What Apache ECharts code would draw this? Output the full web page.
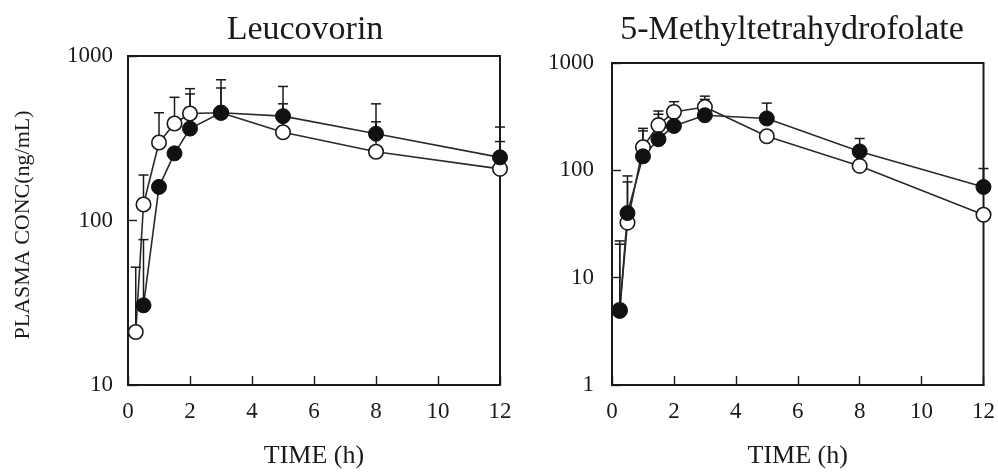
<!DOCTYPE html>
<html>
<head>
<meta charset="utf-8">
<script src="https://cdn.jsdelivr.net/npm/echarts@6/dist/echarts.min.js"></script>
<style>
  html, body { margin: 0; padding: 0; background: #fff; }
  #chart { width: 998px; height: 474px; }
</style>
</head>
<body>
<div id="chart"></div>
<script>
// Sampling times (h)
const times = [0.25, 0.5, 1, 1.5, 2, 3, 5, 8, 12];
const xTicks = [0, 2, 4, 6, 8, 10, 12];

// Leucovorin plasma concentration (ng/mL): open and filled symbols
const leuOpen = [21, 125, 298, 389, 447, 452, 344, 262, 206];
const leuFilled = [null, 30.5, 160, 256, 362, 452, 431, 337, 242];
// upper end of the error bars (mean + SD)
const leuOpenUpper = [52, 189, 452, 561, 633, 639, 512, 398, 302];
const leuFilledUpper = [null, 76.5, null, null, 588, 717, 653, 512, 370];

// 5-Methyltetrahydrofolate plasma concentration (ng/mL)
const mthfOpen = [5.0, 32.6, 164, 264, 350, 389, 208, 110, 38.6];
const mthfFilled = [4.9, 40, 135, 195, 259, 326, 304, 150, 70];
const mthfOpenUpper = [22, 78, 246, 357, 436, 491, null, null, null];
const mthfFilledUpper = [20.5, 88.7, 233, 333, null, 458, 423, 198, 104];

const panelTitles = ['Leucovorin', '5-Methyltetrahydrofolate'];
const yRanges = [[10, 1000], [1, 1000]];

const FONT = 'Liberation Serif';
const INK = '#1a1a1a';

function pairs(values) {
  return times.map((t, i) => values[i] == null ? null : [t, values[i]]).filter(Boolean);
}
function errorData(means, uppers) {
  return times.map((t, i) => (means[i] == null || uppers[i] == null) ? null : [t, means[i], uppers[i]]).filter(Boolean);
}

// vertical bar from the mean up to a short horizontal cap
function renderErrorBar(params, api) {
  const p0 = api.coord([api.value(0), api.value(1)]);
  const p1 = api.coord([api.value(0), api.value(2)]);
  const hw = 5;
  const style = { stroke: INK, lineWidth: 1.5, fill: null };
  return {
    type: 'group',
    children: [
      { type: 'line', shape: { x1: p0[0], y1: p0[1], x2: p1[0], y2: p1[1] }, style: style },
      { type: 'line', shape: { x1: p1[0] - hw, y1: p1[1], x2: p1[0] + hw, y2: p1[1] }, style: style }
    ]
  };
}

const grids = [
  { left: 128, top: 56, width: 372, height: 332 },
  { left: 612, top: 63, width: 373, height: 326 }
];

function makeXAxis(idx) {
  return {
    type: 'value', gridIndex: idx, min: xTicks[0], max: xTicks[xTicks.length - 1], interval: 2,
    name: 'TIME (h)', nameLocation: 'middle', nameGap: 58,
    nameTextStyle: { fontFamily: FONT, fontSize: 26, color: INK },
    axisLine: { show: true, lineStyle: { color: INK, width: 2 } },
    axisTick: { show: true, inside: true, length: 9, lineStyle: { color: INK, width: 1.4 } },
    axisLabel: { fontFamily: FONT, fontSize: 23, color: INK, margin: 15 },
    splitLine: { show: false }
  };
}
function makeYAxis(idx) {
  return {
    type: 'log', logBase: 10, gridIndex: idx, min: yRanges[idx][0], max: yRanges[idx][1],
    axisLine: { show: true, lineStyle: { color: INK, width: 2 } },
    axisTick: { show: true, inside: true, length: 9, lineStyle: { color: INK, width: 1.4 } },
    minorTick: { show: false },
    axisLabel: { fontFamily: FONT, fontSize: 23, color: INK, margin: idx === 0 ? 15 : 18,
      formatter: v => String(Math.round(v)) },
    splitLine: { show: false }
  };
}

function panelSeries(idx, open, filled, openUp, filledUp) {
  const common = { xAxisIndex: idx, yAxisIndex: idx, animation: false };
  return [
    Object.assign({ type: 'line', data: pairs(open), symbol: 'none', z: 2,
      lineStyle: { color: '#2a2a2a', width: 1.6 } }, common),
    Object.assign({ type: 'line', data: pairs(filled), symbol: 'none', z: 2,
      lineStyle: { color: '#2a2a2a', width: 1.6 } }, common),
    Object.assign({ type: 'custom', renderItem: renderErrorBar, data: errorData(open, openUp), z: 3, clip: false }, common),
    Object.assign({ type: 'custom', renderItem: renderErrorBar, data: errorData(filled, filledUp), z: 3, clip: false }, common),
    Object.assign({ type: 'scatter', data: pairs(open), symbol: 'circle', symbolSize: 14.5, z: 5, clip: false,
      itemStyle: { color: '#ffffff', borderColor: INK, borderWidth: 1.6, opacity: 1 } }, common),
    Object.assign({ type: 'scatter', data: pairs(filled), symbol: 'circle', symbolSize: 15, z: 6, clip: false,
      itemStyle: { color: '#111111', borderColor: '#111111', borderWidth: 1, opacity: 1 } }, common)
  ];
}

const chart = echarts.init(document.getElementById('chart'), null, { renderer: 'canvas' });
chart.setOption({
  backgroundColor: '#ffffff',
  animation: false,
  title: [
    { text: panelTitles[0], left: 300, top: 8, textAlign: 'center',
      textStyle: { fontFamily: FONT, fontSize: 34, fontWeight: 'normal', color: INK } },
    { text: panelTitles[1], left: 787, top: 8, textAlign: 'center',
      textStyle: { fontFamily: FONT, fontSize: 34, fontWeight: 'normal', color: INK } }
  ],
  graphic: [
    { type: 'text', x: 23, y: 225, rotation: Math.PI / 2,
      style: { text: 'PLASMA CONC(ng/mL)', fontFamily: FONT, fontSize: 22, fill: INK,
        textAlign: 'center', textVerticalAlign: 'middle' } }
  ],
  grid: grids.map(g => Object.assign({ show: true, borderColor: INK, borderWidth: 2, backgroundColor: 'transparent' }, g)),
  xAxis: [makeXAxis(0), makeXAxis(1)],
  yAxis: [makeYAxis(0), makeYAxis(1)],
  series: [].concat(
    panelSeries(0, leuOpen, leuFilled, leuOpenUpper, leuFilledUpper),
    panelSeries(1, mthfOpen, mthfFilled, mthfOpenUpper, mthfFilledUpper)
  )
});
</script>
</body>
</html>
